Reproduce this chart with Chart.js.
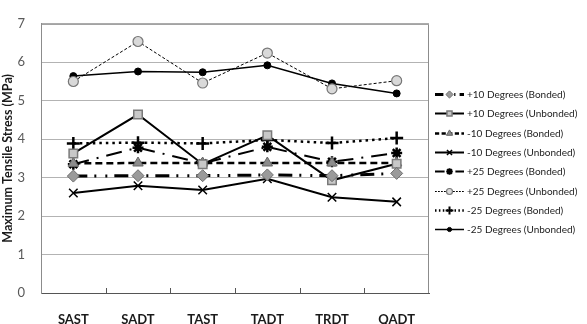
<!DOCTYPE html>
<html>
<head>
<meta charset="utf-8">
<script src="https://cdn.jsdelivr.net/npm/chart.js@4/dist/chart.umd.min.js"></script>
<style>
  html, body { margin: 0; padding: 0; background: #fff; }
  #wrap { width: 587px; height: 324px; }
</style>
</head>
<body>
<div id="wrap"><canvas id="chart" width="587" height="324"></canvas></div>
<script>
// chart values
var categories = ['SAST', 'SADT', 'TAST', 'TADT', 'TRDT', 'QADT'];
var yTicks = [0, 1, 2, 3, 4, 5, 6, 7];

var plus10Bonded = [3.04, 3.05, 3.05, 3.07, 3.05, 3.11];
var plus10Unbonded = [3.63, 4.64, 3.35, 4.10, 2.93, 3.36];
var minus10Bonded = [3.37, 3.38, 3.38, 3.38, 3.38, 3.38];
var minus10Unbonded = [2.60, 2.79, 2.68, 2.97, 2.49, 2.37];
var plus25Bonded = [3.35, 3.78, 3.37, 3.80, 3.41, 3.64];
var plus25Unbonded = [5.50, 6.54, 5.46, 6.24, 5.31, 5.52];
var minus25Bonded = [3.89, 3.91, 3.89, 3.98, 3.90, 4.03];
var minus25Unbonded = [5.64, 5.76, 5.74, 5.92, 5.45, 5.19];

var fontFamily = 'Lato, "Open Sans", sans-serif';

function series(label, data, style) {
    var ds = {
        label: label,
        data: data,
        borderColor: '#000',
        backgroundColor: '#000',
        borderWidth: 2,
        borderDash: [],
        fill: false,
        tension: 0,
        pointStyle: 'circle',
        pointRadius: 4,
        pointBorderWidth: 1,
        pointBorderColor: '#000',
        pointBackgroundColor: '#000'
    };
    for (var k in style) {
        ds[k] = style[k];
    }
    ds.pointHoverRadius = ds.pointRadius;
    return ds;
}

var datasets = [
    series('+10 Degrees (Bonded)', plus10Bonded, {
        borderWidth: 3, borderDash: [14, 7, 2, 9, 2, 7],
        pointStyle: 'rectRot', pointRadius: 6, pointBackgroundColor: '#9a9a9a', pointBorderColor: '#6e6e6e'
    }),
    series('+10 Degrees (Unbonded)', plus10Unbonded, {
        borderWidth: 2,
        pointStyle: 'rect', pointRadius: 6, pointBackgroundColor: '#c8c8c8', pointBorderColor: '#7a7a7a', pointBorderWidth: 1.5
    }),
    series('-10 Degrees (Bonded)', minus10Bonded, {
        borderWidth: 2.5, borderDash: [7, 4],
        pointStyle: 'triangle', pointRadius: 6, pointBackgroundColor: '#8c8c8c', pointBorderColor: '#666'
    }),
    series('-10 Degrees (Unbonded)', minus10Unbonded, {
        borderWidth: 2,
        pointStyle: 'crossRot', pointRadius: 6, pointBorderWidth: 1.5
    }),
    series('+25 Degrees (Bonded)', plus25Bonded, {
        borderWidth: 2, borderDash: [16, 8, 2, 8],
        pointStyle: 'star', pointRadius: 5.5, pointBorderWidth: 2.5
    }),
    series('+25 Degrees (Unbonded)', plus25Unbonded, {
        borderWidth: 1, borderDash: [3, 2],
        pointStyle: 'circle', pointRadius: 5, pointBackgroundColor: '#d9d9d9', pointBorderColor: '#777', pointBorderWidth: 1.2
    }),
    series('-25 Degrees (Bonded)', minus25Bonded, {
        borderWidth: 2.5, borderDash: [2.5, 4],
        pointStyle: 'cross', pointRadius: 6.5, pointBorderWidth: 2.5
    }),
    series('-25 Degrees (Unbonded)', minus25Unbonded, {
        borderWidth: 1.5,
        pointStyle: 'circle', pointRadius: 3.5
    })
];

// frame, inside ticks on x and the legend drawn Excel-style
var framePlugin = {
    id: 'frame',
    afterDatasetsDraw: function (chart) {
        var ctx = chart.ctx;
        var a = chart.chartArea;
        var xs = chart.scales.x;
        ctx.save();
        ctx.strokeStyle = '#8c8c8c';
        ctx.lineWidth = 1;
        ctx.beginPath();
        ctx.moveTo(a.left + 0.5, a.top + 0.5);
        ctx.lineTo(a.right - 0.5, a.top + 0.5);
        ctx.lineTo(a.right - 0.5, a.bottom);
        ctx.stroke();
        ctx.strokeStyle = '#555';
        for (var i = 1; i < categories.length; i++) {
            var x = Math.round((xs.getPixelForValue(i - 1) + xs.getPixelForValue(i)) / 2) + 0.5;
            ctx.beginPath();
            ctx.moveTo(x, a.bottom - 5);
            ctx.lineTo(x, a.bottom);
            ctx.stroke();
        }
        ctx.restore();
    },
    afterDraw: function (chart) {
        var ctx = chart.ctx;
        var x0 = 435, x1 = 464, tx = 467;
        var y = 94, step = 19.3;
        ctx.save();
        chart.data.datasets.forEach(function (ds, i) {
            var yy = Math.round(y + i * step) + 0.5;
            ctx.strokeStyle = ds.borderColor;
            ctx.lineWidth = ds.borderWidth;
            ctx.setLineDash(ds.borderDash.map(function (v) { return v * 0.6; }));
            ctx.beginPath();
            ctx.moveTo(x0, yy);
            ctx.lineTo(x1, yy);
            ctx.stroke();
            ctx.setLineDash([]);
            ctx.fillStyle = ds.pointBackgroundColor;
            ctx.strokeStyle = ds.pointBorderColor;
            ctx.lineWidth = Math.min(ds.pointBorderWidth, 2);
            Chart.helpers.drawPoint(ctx, {
                pointStyle: ds.pointStyle,
                rotation: 0,
                radius: ds.pointRadius * 0.6,
                borderWidth: Math.min(ds.pointBorderWidth, 2)
            }, (x0 + x1) / 2, yy);
            ctx.fillStyle = '#222';
            ctx.font = '10px ' + fontFamily;
            ctx.textBaseline = 'middle';
            ctx.textAlign = 'left';
            ctx.fillText(ds.label, tx, yy);
        });
        ctx.restore();
    }
};

var ctx = document.getElementById('chart').getContext('2d');
var chart = new Chart(ctx, {
    type: 'line',
    data: {
        labels: categories,
        datasets: datasets
    },
    options: {
        responsive: false,
        animation: false,
        layout: {padding: {top: 7, right: 158, left: 0, bottom: 0}},
        plugins: {
            legend: {display: false},
            tooltip: {enabled: false}
        },
        scales: {
            x: {
                offset: true,
                grid: {display: false},
                border: {display: true, color: '#555', width: 1},
                ticks: {
                    color: '#1a1a1a',
                    padding: 11,
                    font: {family: fontFamily, size: 13, weight: 'bold'}
                },
                afterFit: function (s) { s.height = 31; }
            },
            y: {
                min: yTicks[0],
                max: yTicks[yTicks.length - 1],
                afterBuildTicks: function (s) {
                    s.ticks = yTicks.map(function (v) { return {value: v}; });
                },
                grid: {color: '#b3b3b3', lineWidth: 1, drawTicks: false},
                border: {display: true, color: '#8c8c8c', width: 1},
                ticks: {
                    color: '#595959',
                    padding: 16,
                    font: {family: fontFamily, size: 13}
                },
                title: {
                    display: true,
                    text: 'Maximum Tensile Stress (MPa)',
                    color: '#1a1a1a',
                    padding: {top: 0, bottom: 0},
                    font: {family: fontFamily, size: 12.5, weight: 'bold'}
                },
                afterFit: function (s) { s.width = 41; }
            }
        }
    },
    plugins: [framePlugin]
});
</script>
</body>
</html>
